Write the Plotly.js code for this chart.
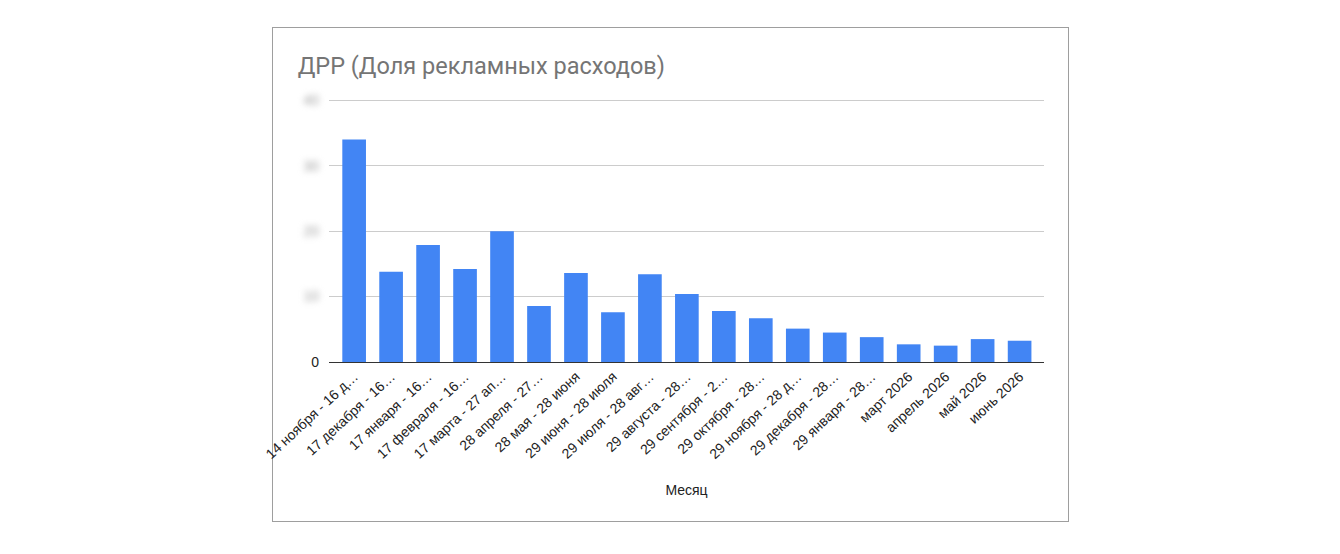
<!DOCTYPE html>
<html>
<head>
<meta charset="utf-8">
<script src="https://cdn.plot.ly/plotly-3.0.1.min.js"></script>
<style>
  body { margin: 0; background: #fff; }
  #box {
    position: absolute; left: 272px; top: 27px;
    width: 797px; height: 495px;
    border: 1px solid #9e9e9e; box-sizing: border-box;
  }
  #chart { width: 795px; height: 493px; }
  #chart svg { overflow: visible; }
  /* y tick values are blurred in the source */
  #chart .ytick text.blurred { filter: blur(3px); }
</style>
</head>
<body>
<div id="box"><div id="chart"></div></div>
<script>
// months (labels as shown, already cut by the chart)
var months = [
  '14 ноября - 16 д…', '17 декабря - 16…', '17 января - 16…', '17 февраля - 16…',
  '17 марта - 27 ап…', '28 апреля - 27…', '28 мая - 28 июня', '29 июня - 28 июля',
  '29 июля - 28 авг…', '29 августа - 28…', '29 сентября - 2…', '29 октября - 28…',
  '29 ноября - 28 д…', '29 декабря - 28…', '29 января - 28…', 'март 2026',
  'апрель 2026', 'май 2026', 'июнь 2026'
];
// ДРР, %
var drr = [34.0, 13.8, 17.9, 14.2, 20.0, 8.55, 13.6, 7.6, 13.4, 10.4,
           7.8, 6.7, 5.1, 4.5, 3.8, 2.7, 2.5, 3.5, 3.25];
var yTicks = [0, 10, 20, 30, 40];

var data = [{
    type: 'bar',
    x: months,
    y: drr,
    marker: { color: '#4285f4' },
    hoverinfo: 'x+y'
}];

// blur all y labels except the zero one, like the source picture
function blurTicks() {
    document.querySelectorAll('#chart .ytick text').forEach(function (t) {
        if (t.textContent.trim() === '0') {
            t.classList.remove('blurred');
            t.style.fill = '#222';
        } else {
            t.classList.add('blurred');
        }
    });
}

Plotly.newPlot('chart', data, {
    width: 795,
    height: 493,
    font: { family: 'Liberation Sans, Arial', size: 14, color: '#222' },
    title: {
        text: 'ДРР (Доля рекламных расходов)',
        font: { family: 'Roboto', size: 23.5, color: '#757575' },
        xref: 'container', x: 0.031, xanchor: 'left',
        yref: 'container', y: 0.94, yanchor: 'top'
    },
    margin: { l: 56, r: 24, t: 69, b: 159, autoexpand: false },
    bargap: 0.36,
    xaxis: {
        range: [-0.68, 18.66],
        tickangle: -43,
        ticks: '',
        showline: true,
        linecolor: '#333',
        linewidth: 1,
        automargin: false,
        title: { text: 'Месяц', standoff: 24, font: { size: 14, color: '#222' } }
    },
    yaxis: {
        range: [0, 40.5],
        tickvals: yTicks,
        ticktext: yTicks.map(String),
        gridcolor: '#cccccc',
        zeroline: false,
        automargin: false,
        ticklabelstandoff: 9,
        tickfont: { size: 14, color: '#a0a0a0' }
    },
    showlegend: false,
    plot_bgcolor: '#fff',
    paper_bgcolor: '#fff'
}, { displayModeBar: false }).then(function (gd) {
    blurTicks();
    gd.on('plotly_afterplot', blurTicks);
});
</script>
</body>
</html>
